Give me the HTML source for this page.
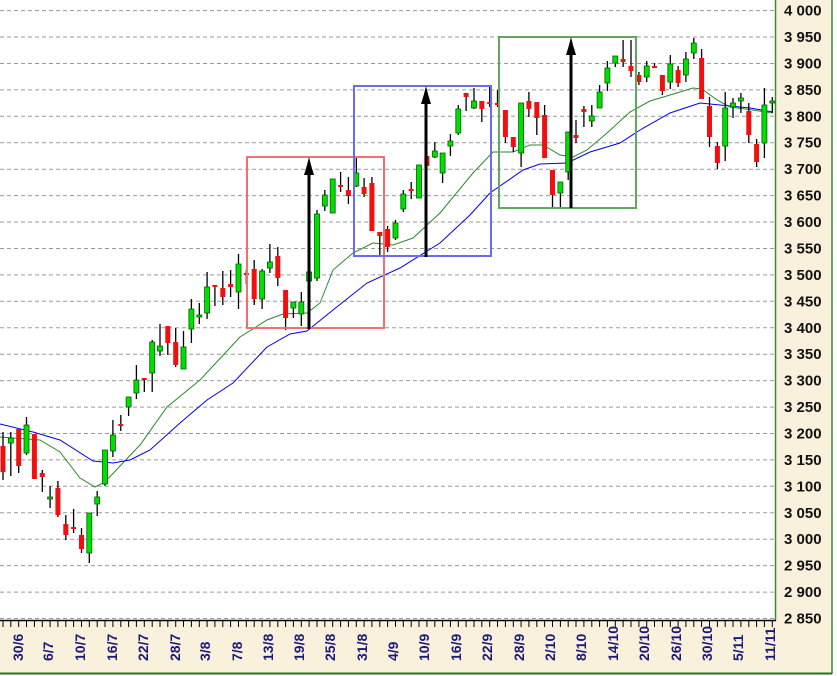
<!DOCTYPE html>
<html><head><meta charset="utf-8"><style>
html,body{margin:0;padding:0;background:#fff;}
svg{display:block;font-family:"Liberation Sans",sans-serif;}
</style></head><body>
<svg id="s" width="837" height="676" xmlns="http://www.w3.org/2000/svg"></svg>
<script>
var s=document.getElementById('s');var h='';
h+='<rect x="776" y="0" width="56" height="676" fill="#f9f1dc"/>';
h+='<rect x="0" y="621" width="832" height="53" fill="#f9f1dc"/>';
h+='<rect x="832" y="0" width="5" height="676" fill="#fff"/>';
h+='<rect x="0" y="674" width="837" height="2" fill="#fff"/>';
for(var v=4000;v>=2850;v-=50){var y=10.6+(4000-v)*0.5286;
h+='<line x1="0" x2="775" y1="'+y.toFixed(1)+'" y2="'+y.toFixed(1)+'" stroke="#9a9a9a" stroke-dasharray="4,3"/>';
var t=(''+v).charAt(0)+' '+(''+v).slice(1);
h+='<text x="784" y="'+(y+5).toFixed(1)+'" font-size="15" font-weight="bold" fill="#111">'+t+'</text>';}
h+='<line x1="775.5" y1="0" x2="775.5" y2="621" stroke="#3a8a3a" stroke-width="1.5"/>';
h+='<line x1="832" y1="0" x2="832" y2="674" stroke="#3a8a3a" stroke-width="1.5"/>';
h+='<line x1="0" y1="620.5" x2="776" y2="620.5" stroke="#000" stroke-width="1.5"/>';
h+='<line x1="0" y1="673.5" x2="832" y2="673.5" stroke="#1a7a1a" stroke-width="2"/>';
for(var i=0;i<99;i++){var x=3+7.85*i;h+='<line x1="'+x.toFixed(1)+'" x2="'+x.toFixed(1)+'" y1="620" y2="627" stroke="#000"/>';}
var labs=[["30/6",18],["6/7",48],["10/7",80],["16/7",112],["22/7",143],["28/7",175],["3/8",205],["7/8",237],["13/8",268],["19/8",299],["25/8",330],["31/8",362],["4/9",393],["10/9",424],["16/9",456],["22/9",487],["28/9",519],["2/10",550],["8/10",581],["14/10",613],["20/10",644],["26/10",676],["30/10",707],["5/11",738],["11/11",770]];
labs.forEach(function(l){h+='<text transform="translate('+(l[1]+5)+',661) rotate(-90)" font-size="14" font-weight="bold" fill="#1a1a7a">'+l[0]+'</text>';});
var blue=[[0,424],[33,432],[60,440],[93,461],[113,463],[130,460],[150,450],[180,423],[207,400],[233,383],[267,347],[290,334],[307,331],[333,310],[367,283],[400,268],[440,243],[470,215],[490,193],[523,170],[540,164],[567,163],[590,152],[620,143],[640,130],[670,113],[700,103],[720,105],[750,108],[773,112]];
var green=[[0,437],[40,440],[60,452],[80,478],[95,487],[105,482],[120,466],[140,445],[167,407],[200,380],[240,337],[267,320],[283,314],[307,313],[320,303],[333,270],[353,253],[373,243],[393,245],[413,238],[440,213],[473,173],[493,152],[513,152],[530,145],[543,145],[560,155],[573,157],[587,150],[607,133],[630,112],[650,101],[670,95],[693,88],[702,89],[717,100],[730,107],[753,110],[772,113]];
function pl(a,c){return '<polyline fill="none" stroke="'+c+'" stroke-width="1" points="'+a.map(function(p){return p.join(',')}).join(' ')+'"/>';}
h+=pl(green,'#2a8a2a')+pl(blue,'#0000ee');
var c=[[446,472,432,480,'r'],[438,443,432,476,'g'],[429,466,429,473,'r'],[425,453,417,455,'g'],[434,479,434,479,'r'],[473,477,470,492,'r'],[497,497,486,508,'g'],[488,515,481,517,'r'],[524,535,515,540,'r'],[527,527,509,533,'r'],[535,549,528,553,'r'],[513,553,513,563,'g'],[497,504,491,516,'g'],[450,484,450,486,'g'],[435,451,420,457,'g'],[424,424,415,431,'r'],[397,407,397,416,'g'],[380,393,365,399,'g'],[378,378,378,392,'r'],[342,373,340,392,'g'],[346,351,324,356,'g'],[326,343,326,355,'r'],[342,365,328,367,'r'],[347,369,331,369,'g'],[309,329,299,343,'g'],[315,315,303,324,'g'],[287,313,272,319,'g'],[285,287,285,306,'r'],[288,297,271,305,'r'],[284,287,270,297,'r'],[264,292,254,309,'g'],[273,273,270,284,'r'],[269,299,260,305,'r'],[271,299,269,309,'g'],[262,268,244,273,'g'],[256,278,247,286,'r'],[290,318,290,330,'r'],[302,308,302,318,'g'],[302,314,292,326,'g'],[272,281,268,283,'g'],[214,278,210,281,'g'],[195,206,190,211,'g'],[179,213,179,213,'g'],[185,185,172,192,'r'],[190,196,177,204,'r'],[173,186,156,187,'g'],[187,194,178,197,'r'],[183,231,177,231,'r'],[232,236,232,256,'r'],[229,247,226,252,'r'],[223,238,220,240,'g'],[194,209,190,212,'g'],[189,189,182,199,'r'],[165,198,165,198,'g'],[156,166,152,168,'r'],[151,157,142,158,'g'],[153,173,153,183,'g'],[141,146,134,156,'g'],[109,133,105,135,'g'],[93,97,93,111,'r'],[101,108,88,109,'g'],[101,109,101,122,'r'],[102,102,86,107,'r'],[103,103,90,107,'r'],[110,137,110,143,'r'],[137,147,137,152,'r'],[103,153,103,167,'g'],[101,109,92,117,'r'],[102,118,102,135,'r'],[115,158,105,158,'r'],[170,195,170,207,'r'],[182,193,182,207,'g'],[132,172,132,180,'g'],[135,138,120,143,'r'],[109,112,106,127,'r'],[116,121,105,127,'g'],[92,108,85,108,'g'],[68,83,61,91,'g'],[56,63,56,67,'g'],[59,62,40,67,'r'],[66,71,40,77,'r'],[75,82,72,85,'r'],[66,77,61,82,'g'],[66,66,63,68,'r'],[75,91,75,95,'r'],[64,82,55,89,'g'],[70,83,66,87,'r'],[59,75,52,82,'g'],[43,53,38,59,'g'],[58,99,49,99,'r'],[106,137,97,147,'r'],[146,163,142,169,'r'],[108,146,92,161,'g'],[103,107,98,118,'g'],[98,101,93,113,'g'],[111,135,103,143,'r'],[144,162,139,167,'r'],[105,143,88,158,'g'],[101,103,97,113,'g']];
c.forEach(function(d,i){var x=3+7.85*i;
h+='<line x1="'+x.toFixed(1)+'" x2="'+x.toFixed(1)+'" y1="'+d[2]+'" y2="'+d[3]+'" stroke="#000" stroke-width="1.3"/>';
var bh=Math.max(d[1]-d[0],2);
if(d[4]=='g')h+='<rect x="'+(x-2.5).toFixed(1)+'" y="'+d[0]+'" width="5" height="'+bh+'" fill="#00e000" stroke="#006000" stroke-width="0.8"/>';
else h+='<rect x="'+(x-2.5).toFixed(1)+'" y="'+d[0]+'" width="5" height="'+bh+'" fill="#f01010"/>';});
h+='<rect x="247" y="157" width="137" height="171" fill="none" stroke="#f07070" stroke-width="2"/>';
h+='<rect x="354" y="86" width="137" height="170" fill="none" stroke="#6b6bf0" stroke-width="2"/>';
h+='<rect x="499" y="37" width="137" height="171" fill="none" stroke="#60a860" stroke-width="2"/>';
function ar(x,y1,y2){return '<line x1="'+x+'" x2="'+x+'" y1="'+y1+'" y2="'+(y2+12)+'" stroke="#000" stroke-width="3"/><polygon points="'+x+','+y2+' '+(x-2)+','+(y2+8)+' '+(x-5)+','+(y2+18)+' '+(x+5)+','+(y2+18)+' '+(x+2)+','+(y2+8)+'" fill="#000"/>';}
h+=ar(309,329,157)+ar(426,257,86)+ar(571,208,37);
s.innerHTML=h;
</script>
</body></html>
